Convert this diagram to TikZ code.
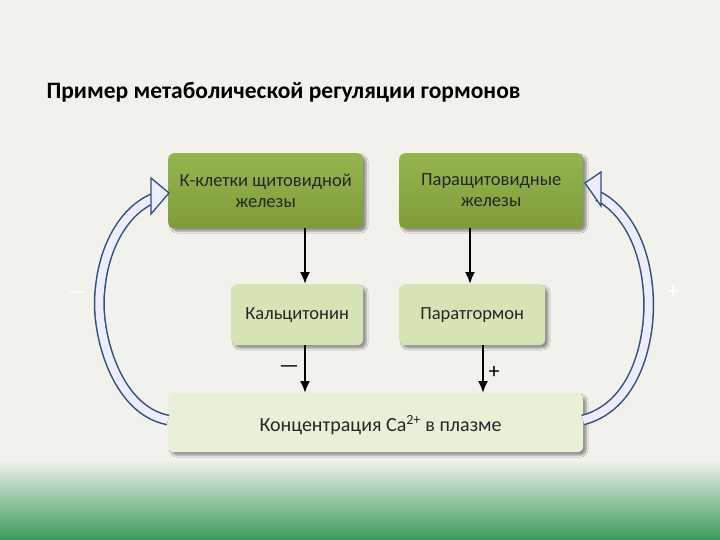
\documentclass[tikz,border=0pt]{standalone}
\usepackage{fontspec}
\setmainfont{Carlito}
\usetikzlibrary{shadows.blur,arrows.meta}
\definecolor{dg}{HTML}{7E9D3A}
\definecolor{dgt}{HTML}{95B551}
\definecolor{lg}{HTML}{D5E3B5}
\definecolor{vlg}{HTML}{E9F0D8}
\definecolor{bgc}{HTML}{F2F1EC}
\definecolor{grn}{HTML}{3A9A5A}
\definecolor{arr}{HTML}{2F4F7F}
\tikzset{
  box/.style={rounded corners=6pt, blur shadow={shadow blur steps=5, shadow xshift=3pt, shadow yshift=-3pt}, align=center, font=\fontsize{18.5}{21}\selectfont, text=black!85, inner sep=0pt},
  dark/.style={box, top color=dgt, bottom color=dg},
  light/.style={box, fill=lg},
  vlight/.style={box, fill=vlg},
  boxtext/.style={anchor=north, align=center, font=\fontsize{18.5}{21}\selectfont, text=black!85},
  conn/.style={-{Latex[length=12pt,width=10pt]}, line width=2pt},
  sign/.style={font=\fontsize{22}{22}\selectfont},
  curout/.style={draw=arr, line width=11pt},
  curin/.style={draw=white!93!blue, line width=8pt}
}
\begin{document}
\begin{tikzpicture}[x=1pt,y=-1pt]
\useasboundingbox (0,0) rectangle (720,540);
\fill[bgc] (0,0) rectangle (720,540);
\shade[top color=bgc, bottom color=grn] (0,460) rectangle (720,540);
\node[anchor=west, font=\bfseries\fontsize{23.5}{26}\selectfont] (title) at (43,92) {Пример метаболической регуляции гормонов};
\node[dark, minimum width=195pt, minimum height=75pt, anchor=north west] (k) at (168,153) {};
\node[boxtext] (kt) at (k.north) [yshift=-17pt] {К-клетки щитовидной\\железы};
\node[dark, minimum width=184pt, minimum height=75pt, anchor=north west] (p) at (399,153) {};
\node[boxtext] (pt) at (p.north) [yshift=-17pt] {Паращитовидные\\железы};
\node[light, minimum width=132pt, minimum height=61pt, anchor=north west] (c) at (231,284) {Кальцитонин};
\node[light, minimum width=146pt, minimum height=61pt, anchor=north west] (h) at (399,284) {Паратгормон};
\node[vlight, minimum width=415pt, minimum height=59pt, anchor=north west] (ca) at (168,393) {};
\node[anchor=west, font=\fontsize{20}{22}\selectfont, text=black!85] (cat) at (256,425) {Концентрация Ca\textsuperscript{2+} в плазме};
\coordinate (k1) at (305,228); \coordinate (k2) at (305,284);
\coordinate (p1) at (470,228); \coordinate (p2) at (470,284);
\coordinate (c1) at (305,345); \coordinate (c2) at (305,393);
\coordinate (h1) at (483,345); \coordinate (h2) at (483,393);
\draw[conn] (k1) -- (k2);
\draw[conn] (p1) -- (p2);
\draw[conn] (c1) -- (c2);
\draw[conn] (h1) -- (h2);
\node[sign] (minus) at (289,369) {---};
\node[sign] (plus) at (494,372) {+};
\node[sign, text=white] (lm) at (78,295) {---};
\node[sign, text=white, font=\fontsize{26}{26}\selectfont] (rp) at (673,292) {+};
% left curved arrow
\coordinate (ls) at (168,420);
\coordinate (le) at (154,198);
\draw[curout] (ls) .. controls (115,410) and (95,330) .. (100,290) .. controls (104,245) and (125,210) .. (le);
\draw[curin] (ls) .. controls (115,410) and (95,330) .. (100,290) .. controls (104,245) and (125,210) .. (le);
\filldraw[draw=arr, fill=white!93!blue, line width=1.3pt] (151,178) -- (169,193) -- (151,214) -- cycle;
% right curved arrow
\coordinate (rs) at (583,420);
\coordinate (re) at (598,196);
\draw[curout] (rs) .. controls (640,405) and (652,330) .. (648,290) .. controls (644,240) and (622,208) .. (re);
\draw[curin] (rs) .. controls (640,405) and (652,330) .. (648,290) .. controls (644,240) and (622,208) .. (re);
\filldraw[draw=arr, fill=white!93!blue, line width=1.3pt] (601,172) -- (585,183) -- (601,206) -- cycle;
\end{tikzpicture}
\end{document}
